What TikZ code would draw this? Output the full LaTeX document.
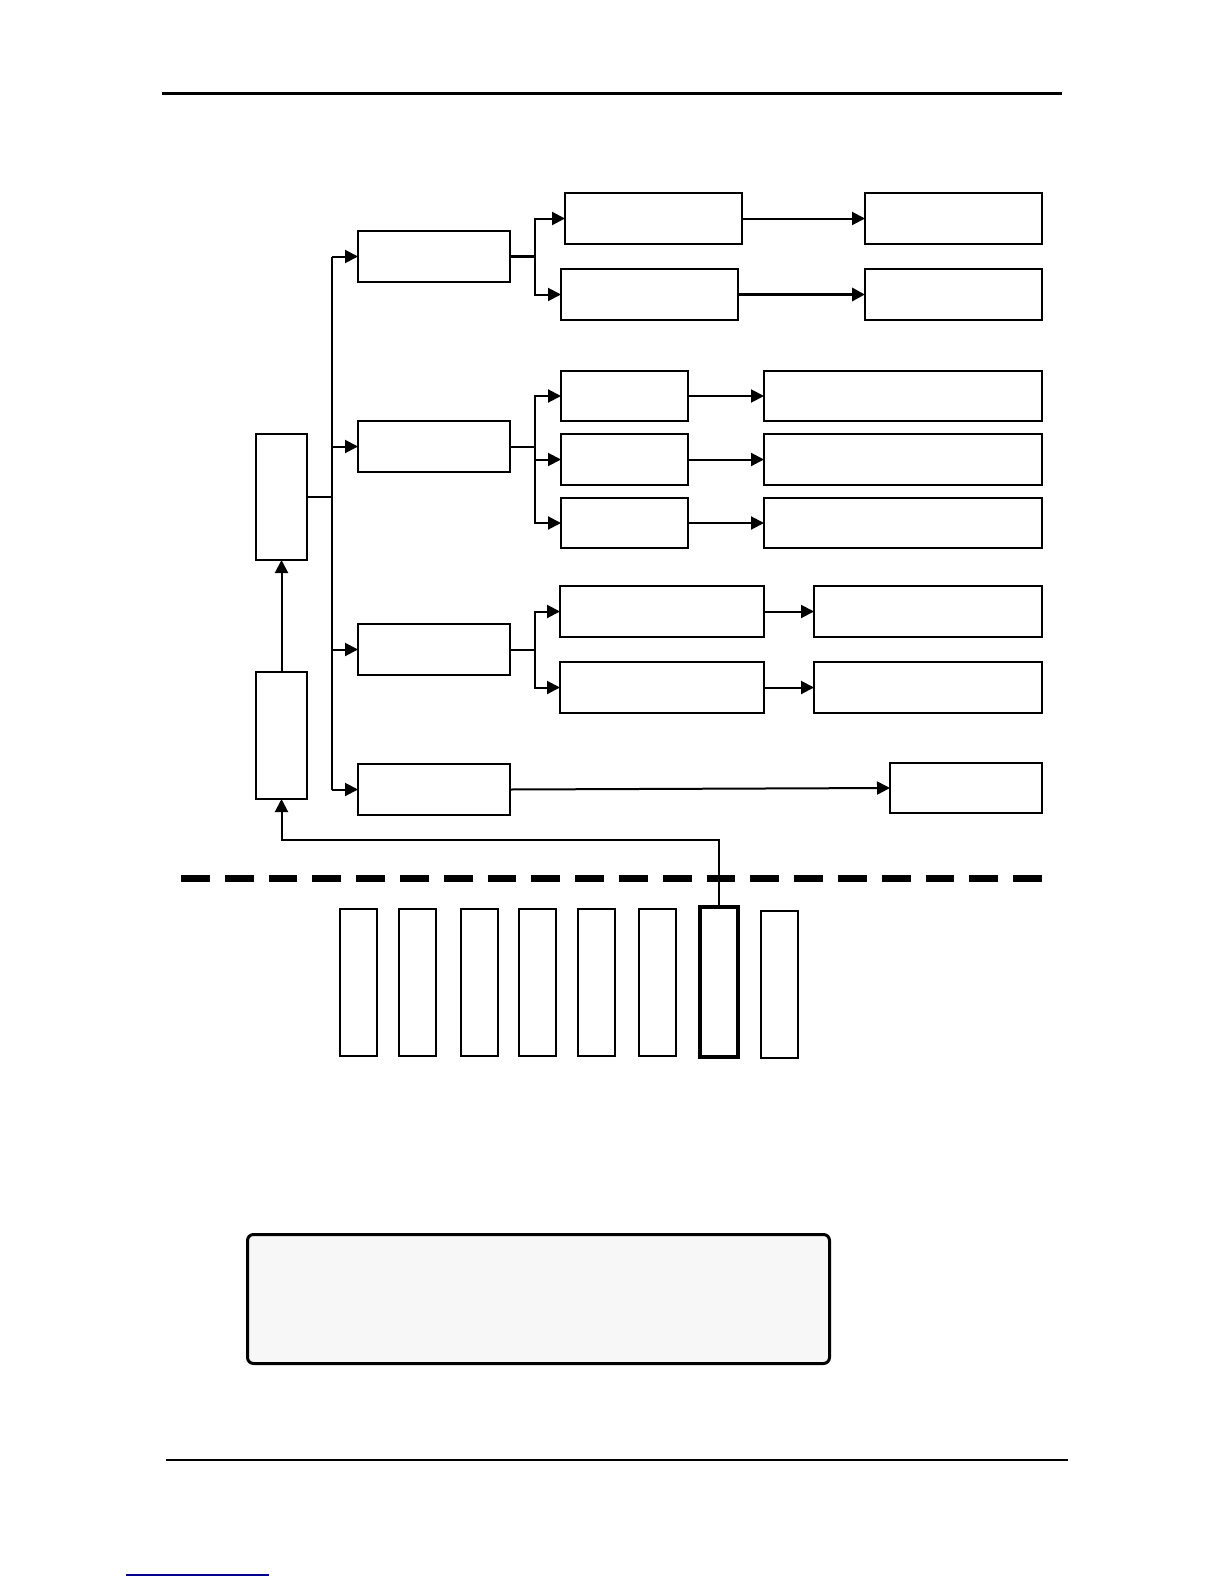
\documentclass[tikz,border=0pt]{standalone}
\usetikzlibrary{arrows.meta}
\definecolor{panelfill}{RGB}{247,247,247}
\definecolor{linkblue}{RGB}{0,0,140}
\tikzset{
  box/.style={draw=black,line width=1pt,fill=white,inner sep=0pt,outer sep=0pt,rectangle},
  slotbox/.style={box},
  thickslot/.style={box,line width=2pt},
  conn/.style={draw=black,line width=1pt},
  arr/.style={conn,-{Triangle[length=6.5pt,width=6.5pt]}},
  thickconn/.style={conn,line width=1.7pt},
}
\newcommand{\bx}[6][box]{\node[#1,minimum width=#5*0.5pt,minimum height=#6*0.5pt,anchor=north west] (#2) at (#3,#4) {};}
\begin{document}
\begin{tikzpicture}[x=0.5pt,y=-0.5pt]
\useasboundingbox (0,0) rectangle (1224,1584);
% rules
\draw[line width=1.65pt] (162,93.3) -- (1061.5,93.3);
\draw[line width=1.15pt] (166,1460) -- (1068,1460);
\draw[linkblue,line width=0.75pt] (126,1575) -- (269,1575);
% left column
\bx{L1}{256}{434}{51}{126}
\bx{L2}{256}{672}{51}{127}
% level A
\bx{A1}{358}{231}{152}{51}
\bx{A2}{358}{421}{152}{51}
\bx{A3}{358}{624}{152}{51}
\bx{A4}{358}{764}{152}{51}
% level B
\bx{B1}{565}{193}{177}{51}
\bx{B2}{561}{269}{177}{51}
\bx{B3}{561}{371}{127}{50}
\bx{B4}{561}{434}{127}{51}
\bx{B5}{561}{498}{127}{50}
\bx{B6}{560}{586}{204}{51}
\bx{B7}{560}{662}{204}{51}
% level C
\bx{C1}{865}{193}{177}{51}
\bx{C2}{865}{269}{177}{51}
\bx{C3}{764}{371}{278}{50}
\bx{C4}{764}{434}{278}{51}
\bx{C5}{764}{498}{278}{50}
\bx{C6}{814}{586}{228}{51}
\bx{C7}{814}{662}{228}{51}
\bx{C8}{890}{763}{152}{50}
% slots
\bx[slotbox]{S1}{340}{909}{37}{147}
\bx[slotbox]{S2}{399}{909}{37}{147}
\bx[slotbox]{S3}{461}{909}{37}{147}
\bx[slotbox]{S4}{519}{909}{37}{147}
\bx[slotbox]{S5}{578}{909}{37}{147}
\bx[slotbox]{S6}{639}{909}{37}{147}
\bx[thickslot]{S7}{700}{907}{38}{150}
\bx[slotbox]{S8}{761}{911}{37}{147}
% panel
\node[draw=black,line width=1.5pt,fill=panelfill,rounded corners=3pt,minimum width=582*0.5pt,minimum height=129*0.5pt,anchor=north west,inner sep=0pt] (P) at (246,1233) {};
% dashed separator
\coordinate (dl) at (181,878.3);
\coordinate (dr) at (1042,878.3);
\draw[line width=3.4pt,dash pattern=on 14.35pt off 7.55pt] (dl) -- (dr);
% spine
\coordinate (sp) at (332,0);
\draw[conn] (L1.east) -- (L1.east -| sp);
\draw[conn] (A1.west -| sp) -- (A4.west -| sp);
\draw[arr] (A1.west -| sp) -- (A1.west);
\draw[arr] (A2.west -| sp) -- (A2.west);
\draw[arr] (A3.west -| sp) -- (A3.west);
\draw[arr] (A4.west -| sp) -- (A4.west);
% branches
\coordinate (jx) at (534.6,0);
\draw[thickconn] (A1.east) -- (A1.east -| jx);
\draw[arr] (A1.east -| jx) |- (B1.west);
\draw[arr] (A1.east -| jx) |- (B2.west);
\draw[conn] (A2.east) -- (A2.east -| jx);
\draw[arr] (A2.east -| jx) |- (B3.west);
\draw[arr] (A2.east -| jx) |- (B4.west);
\draw[arr] (A2.east -| jx) |- (B5.west);
\draw[conn] (A3.east) -- (A3.east -| jx);
\draw[arr] (A3.east -| jx) |- (B6.west);
\draw[arr] (A3.east -| jx) |- (B7.west);
\draw[arr] (A4.east) -- (C8.west);
% B to C
\draw[arr] (B1.east) -- (C1.west);
\draw[arr,line width=1.7pt] (B2.east) -- (C2.west);
\draw[arr] (B3.east) -- (C3.west);
\draw[arr] (B4.east) -- (C4.west);
\draw[arr] (B5.east) -- (C5.west);
\draw[arr] (B6.east) -- (C6.west);
\draw[arr] (B7.east) -- (C7.west);
% left vertical
\draw[arr] (L2.north) -- (L1.south);
\coordinate (fb) at (719,839.5);
\draw[arr] (S7.north) -- (S7.north |- fb) -- (fb -| L2.south) -- (L2.south);
\end{tikzpicture}
\end{document}
